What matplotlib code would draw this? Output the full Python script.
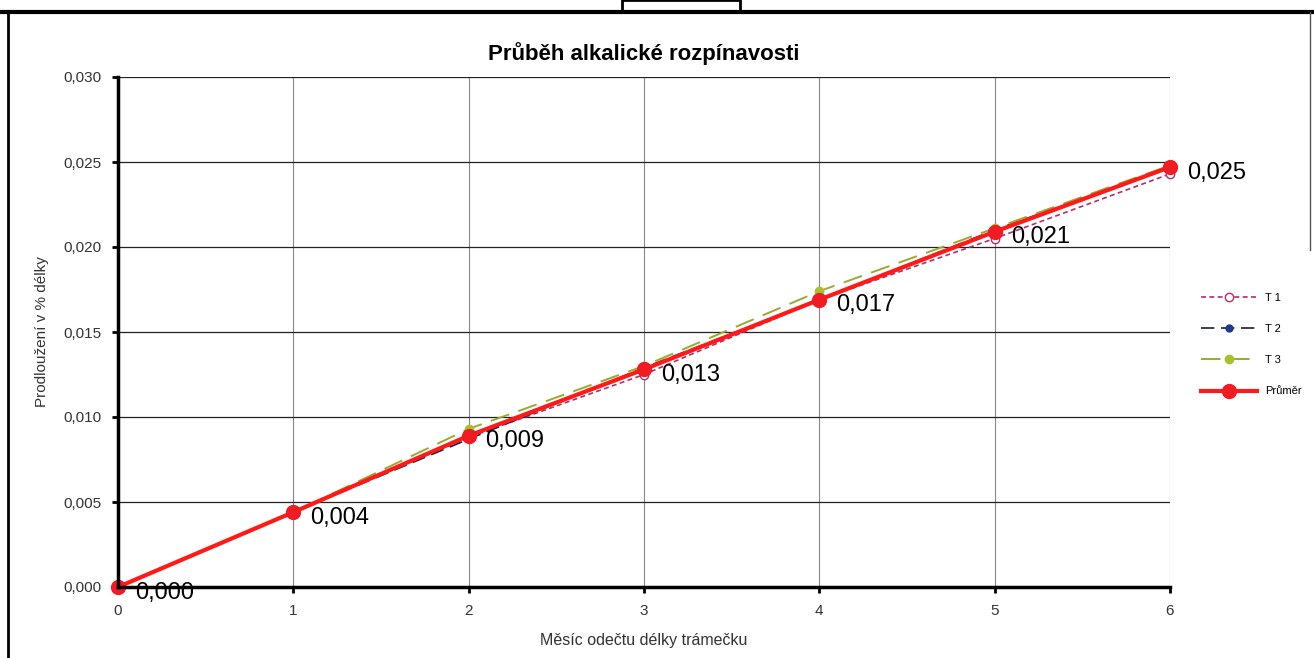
import matplotlib
matplotlib.use("Agg")
import matplotlib.pyplot as plt
from matplotlib.patches import Rectangle
from matplotlib.lines import Line2D

months = [0, 1, 2, 3, 4, 5, 6]
t1 = [0.0, 0.0044, 0.0088, 0.0125, 0.0169, 0.0205, 0.0243]
t2 = [0.0, 0.0044, 0.0087, 0.0129, 0.0169, 0.0210, 0.0247]
t3 = [0.0, 0.0044, 0.0093, 0.0130, 0.0174, 0.0211, 0.0248]
prumer = [0.0, 0.0044, 0.0089, 0.0128, 0.0169, 0.0209, 0.0247]
avg_labels = ["0,000", "0,004", "0,009", "0,013", "0,017", "0,021", "0,025"]
y_ticks = [0.000, 0.005, 0.010, 0.015, 0.020, 0.025, 0.030]
y_ticklabels = ["0,000", "0,005", "0,010", "0,015", "0,020", "0,025", "0,030"]

plt.rcParams['font.family'] = ['Liberation Sans', 'DejaVu Sans']

fig = plt.figure(figsize=(13.14, 6.58), dpi=100)
W, H = 1314, 658
ax = fig.add_axes([118 / W, 1 - 587 / H, (1170 - 118) / W, (587 - 77) / H])

# frame of scanned page: top and left edges, small tab at top
fig.lines.append(Line2D([0, 1], [1 - 12 / H, 1 - 12 / H], transform=fig.transFigure,
                        color='black', linewidth=3))
fig.lines.append(Line2D([8 / W, 8 / W], [0, 1 - 12 / H], transform=fig.transFigure,
                        color='black', linewidth=2))
fig.lines.append(Line2D([1310 / W, 1310 / W], [1 - 250 / H, 1 - 12 / H], transform=fig.transFigure,
                        color='#555555', linewidth=1))
fig.patches.append(Rectangle((622 / W, 1 - 12 / H), 118 / W, 12 / H, transform=fig.transFigure,
                             fill=False, edgecolor='black', linewidth=2))

ax.plot(months, t1, linestyle=(0, (3, 2)), color='#b0306a', linewidth=1.2,
        marker='o', markersize=6, markerfacecolor='white', markeredgecolor='#b0306a', label='T 1')
ax.plot(months, t2, linestyle=(0, (8, 4)), color='#1a1a40', linewidth=1.2,
        marker='o', markersize=5, markerfacecolor='#1f3a8a', markeredgecolor='#1f3a8a', label='T 2')
ax.plot(months, t3, linestyle=(0, (10, 5)), color='#9aaa30', linewidth=1.4,
        marker='o', markersize=6, markerfacecolor='#a8c030', markeredgecolor='#a8c030', label='T 3')
ax.plot(months, prumer, linestyle='-', color='#ff1a1a', linewidth=3,
        marker='o', markersize=10, markerfacecolor='#ee1c25', markeredgecolor='#ee1c25', label='Průměr')

for x, y, s in zip(months, prumer, avg_labels):
    ax.annotate(s, (x, y), xytext=(12, -4), textcoords='offset points',
                fontsize=17, ha='left', va='center', color='black')

ax.set_xlim(0, 6)
ax.set_ylim(0, 0.030)
ax.set_xticks(months)
ax.set_xticklabels([str(m) for m in months], fontsize=11, color='#333333')
ax.set_yticks(y_ticks)
ax.set_yticklabels(y_ticklabels, fontsize=11, color='#333333')
ax.grid(True, axis='x', color='#888888', linewidth=0.8)
ax.grid(True, axis='y', color='#222222', linewidth=0.9)
ax.set_axisbelow(True)
for side in ['top', 'right']:
    ax.spines[side].set_visible(False)
ax.spines['left'].set_linewidth(2.5)
ax.spines['bottom'].set_linewidth(2.5)
ax.tick_params(axis='both', direction='out', length=4, width=2)
ax.tick_params(axis='x', pad=8)
ax.tick_params(axis='y', pad=8)

ax.set_title('Průběh alkalické rozpínavosti', fontsize=16, fontweight='bold', pad=12)
ax.set_xlabel('Měsíc odečtu délky trámečku', fontsize=11.5, color='#333333', labelpad=11)
ax.set_ylabel('Prodloužení v % délky', fontsize=11, color='#333333', labelpad=10)

leg = ax.legend(loc='center left', bbox_to_anchor=(1.02, 0.475), frameon=False,
                fontsize=8, handlelength=5, labelspacing=1.9)
for line in ax.lines:
    line.set_clip_on(False)

fig.savefig('out.png', dpi=100)
